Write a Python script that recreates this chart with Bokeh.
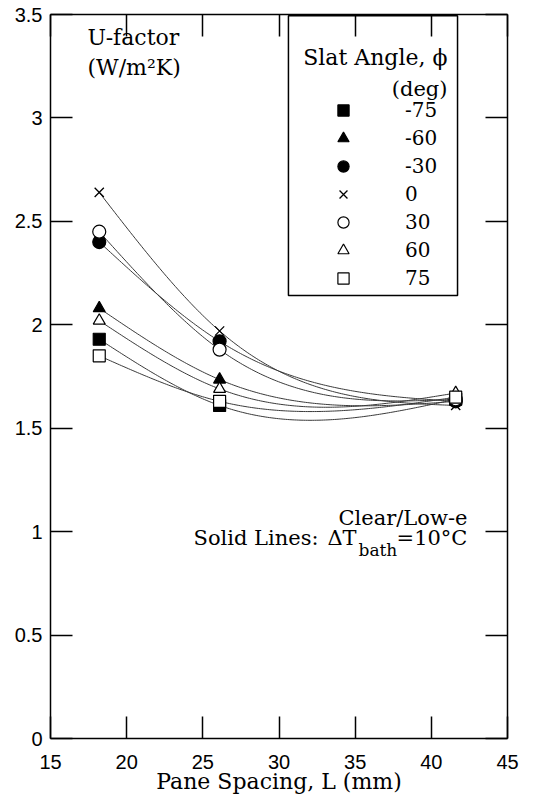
import numpy as np
from bokeh.plotting import figure
from bokeh.models import (LinearAxis, Label, Legend, LegendItem, BoxAnnotation,
                          FixedTicker, Range1d)
from bokeh.embed import file_html
from bokeh.resources import INLINE

# ---------------- data ----------------
spacing_mm = [18.2, 26.1, 41.6]
angle_labels = ["-75", "-60", "-30", "0", "30", "60", "75"]
u_m75 = [1.93, 1.61, 1.64]
u_m60 = [2.08, 1.735, 1.63]
u_m30 = [2.40, 1.92, 1.63]
u_0 = [2.64, 1.97, 1.61]
u_p30 = [2.45, 1.88, 1.64]
u_p60 = [2.02, 1.69, 1.67]
u_p75 = [1.85, 1.63, 1.65]

x_ticks = [15, 20, 25, 30, 35, 40, 45]
y_ticks = [0, 0.5, 1, 1.5, 2, 2.5, 3, 3.5]
y_tick_labels = ["0", "0.5", "1", "1.5", "2", "2.5", "3", "3.5"]

series = [u_m75, u_m60, u_m30, u_0, u_p30, u_p60, u_p75]
markers = ["square", "triangle", "circle", "x", "circle", "triangle", "square"]
filled = [True, True, True, False, False, False, False]
sizes = [12, 12, 13, 13, 13, 12, 12]

SERIF = "DejaVu Serif"
SANS = "Liberation Sans"


def natural_spline(xk, yk, xs):
    """Natural cubic spline through the measured points (smooth connecting curve)."""
    xk = np.asarray(xk, float)
    yk = np.asarray(yk, float)
    n = len(xk)
    h = np.diff(xk)
    A = np.zeros((n, n))
    b = np.zeros(n)
    A[0, 0] = A[-1, -1] = 1.0
    for i in range(1, n - 1):
        A[i, i - 1] = h[i - 1]
        A[i, i] = 2 * (h[i - 1] + h[i])
        A[i, i + 1] = h[i]
        b[i] = 6 * ((yk[i + 1] - yk[i]) / h[i] - (yk[i] - yk[i - 1]) / h[i - 1])
    M = np.linalg.solve(A, b)
    out = np.empty_like(xs)
    for j, x in enumerate(xs):
        i = min(max(np.searchsorted(xk, x) - 1, 0), n - 2)
        a = xk[i + 1] - x
        c = x - xk[i]
        out[j] = (M[i] * a ** 3 + M[i + 1] * c ** 3) / (6 * h[i]) \
            + (yk[i] / h[i] - M[i] * h[i] / 6) * a + (yk[i + 1] / h[i] - M[i + 1] * h[i] / 6) * c
    return out


p = figure(width=537, height=796, x_range=Range1d(15, 45), y_range=Range1d(0, 3.5),
           output_backend="svg", toolbar_location=None,
           min_border_left=50, min_border_right=30, min_border_top=14, min_border_bottom=58)
p.grid.visible = False
p.outline_line_color = None
p.background_fill_color = "white"
p.border_fill_color = "white"

xb = p.below[0]
yl = p.left[0]
xb.ticker = FixedTicker(ticks=x_ticks)
yl.ticker = FixedTicker(ticks=y_ticks)
yl.major_label_overrides = {t: l for t, l in zip(y_ticks, y_tick_labels)}
xb.axis_label = "Pane Spacing, L (mm)"

top_ax = LinearAxis(ticker=FixedTicker(ticks=x_ticks),
                    major_label_overrides={t: "" for t in x_ticks})
right_ax = LinearAxis(ticker=FixedTicker(ticks=y_ticks),
                      major_label_overrides={t: "" for t in y_ticks})
p.add_layout(top_ax, "above")
p.add_layout(right_ax, "right")

for ax in [xb, yl, top_ax, right_ax]:
    ax.axis_line_width = 1.5
    ax.axis_line_color = "black"
    ax.major_tick_line_width = 1.5
    ax.major_tick_line_color = "black"
    ax.major_tick_in = 22
    ax.major_tick_out = 0
    ax.minor_tick_line_color = None
    ax.major_label_text_font = SANS
    ax.major_label_text_font_size = "20px"
    ax.major_label_text_color = "black"

for ax in [top_ax, right_ax]:
    ax.major_label_standoff = 0

xb.major_label_standoff = 16
yl.major_label_standoff = 8
xb.axis_label_text_font = SERIF
xb.axis_label_text_font_style = "normal"
xb.axis_label_text_font_size = "22px"
xb.axis_label_standoff = -3
xb.axis_label_text_color = "black"

# curves and markers
xs_fine = np.linspace(min(spacing_mm), max(spacing_mm), 160)
renderers = []
for vals in series:
    p.line(xs_fine, natural_spline(spacing_mm, vals, xs_fine), line_color="#3a3a3a", line_width=1)
for vals, mk, fl, sz in zip(series, markers, filled, sizes):
    if mk == "x":
        r = p.scatter(spacing_mm, vals, marker="x", size=sz, line_color="black", line_width=1.3)
    else:
        r = p.scatter(spacing_mm, vals, marker=mk, size=sz, line_color="black", line_width=1.2,
                      fill_color="black" if fl else "white")
    renderers.append(r)

# legend box + title
box = BoxAnnotation(left=30.62, right=41.72, top=3.494, bottom=2.141,
                    fill_color=None, fill_alpha=0, line_color="black", line_alpha=1.0,
                    line_width=1.5)
p.add_layout(box)
lbl = dict(text_font=SERIF, text_color="black", text_baseline="alphabetic")
p.add_layout(Label(x=41.06, y=3.292, text="Slat Angle, ϕ", text_align="right",
                   text_font_size="22px", **lbl))
p.add_layout(Label(x=41.06, y=3.138, text="(deg)", text_align="right",
                   text_font_size="21px", **lbl))

legend = Legend(items=[LegendItem(label=l, renderers=[r]) for l, r in zip(angle_labels, renderers)],
                location=(248, 446), padding=0, spacing=0, glyph_width=90, glyph_height=28,
                label_standoff=17, label_text_font=SERIF, label_text_font_size="20px",
                border_line_color=None, background_fill_alpha=0, label_text_color="black")
p.add_layout(legend)

# annotations
p.add_layout(Label(x=17.43, y=3.389, text="U-factor", text_font_size="22px", **lbl))
p.add_layout(Label(x=17.43, y=3.243, text="(W/m²K)", text_font_size="22px", **lbl))
p.add_layout(Label(x=42.37, y=1.064, text="Clear/Low-e", text_align="right",
                   text_font_size="21px", **lbl))
p.add_layout(Label(x=24.39, y=0.967, text="Solid Lines:", text_font_size="21px", **lbl))
p.add_layout(Label(x=33.18, y=0.967, text="ΔT", text_font_size="21px", **lbl))
p.add_layout(Label(x=35.22, y=0.909, text="bath", text_font_size="17px", **lbl))
p.add_layout(Label(x=42.37, y=0.967, text="=10°C", text_align="right",
                   text_font_size="21px", **lbl))

open("out.html", "w").write(file_html(p, INLINE))
